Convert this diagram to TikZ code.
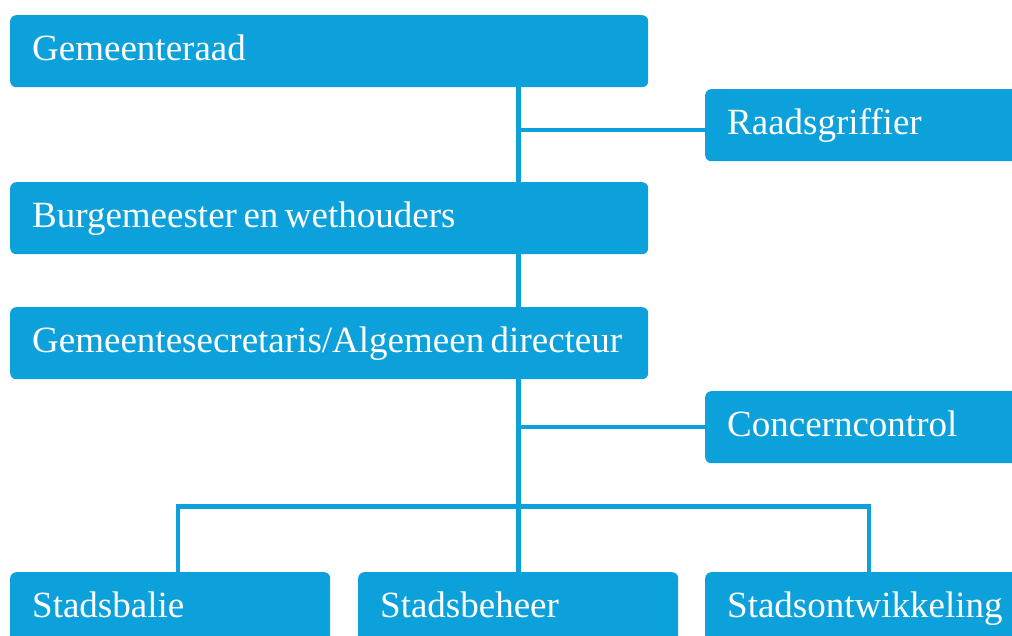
\documentclass[tikz,border=0pt]{standalone}
\usepackage{fontspec}
\setmainfont{Liberation Serif}
\usetikzlibrary{calc}
\definecolor{orgblue}{RGB}{12,161,219}

\begin{document}
\begin{tikzpicture}[x=1pt,y=-1pt,
    box/.style={fill=orgblue,rounded corners=6pt,anchor=north west,
      text=white,font=\fontsize{37}{40}\selectfont,align=left,
      text width=#1,inner xsep=22pt,inner ysep=0pt,
      minimum height=72pt,text height=18pt,text depth=0pt,
      execute at begin node={\spaceskip=6.5pt\hbox\bgroup},execute at end node={\egroup}},
    box/.default=594pt,
    conn/.style={draw=orgblue,line width=4.5pt,line join=miter}]
    \useasboundingbox (0,0) rectangle (1012,635);
    \clip (0,0) rectangle (1012,635);
    \coordinate (spine) at (518.5,0);
    \coordinate (barL) at (178,506.5);
    \coordinate (barR) at (869,506.5);
    \draw[conn] (518.5,87) -- (518.5,182);
    \draw[conn] (518.5,253) -- (518.5,307);
    \draw[conn] (518.5,379) -- (518.5,572);
    \node[box] (raad) at (10,15) {Gemeenteraad};
    \node[box=276pt] (griffier) at (705,89) {Raadsgriffier};
    \node[box] (burg) at (10,182) {Burgemeester en wethouders};
    \node[box] (secr) at (10,307) {Gemeentesecretaris/Algemeen directeur};
    \node[box=276pt] (control) at (705,391) {Concerncontrol};
    \node[box=276pt] (balie) at (10,572) {Stadsbalie};
    \node[box=276pt] (beheer) at (358,572) {Stadsbeheer};
    \node[box=276pt] (ontw) at (705,572) {Stadsontwikkeling};
    \draw[conn] ([yshift=-5pt]griffier.west) -- ([yshift=-5pt]griffier.west -| spine);
    \draw[conn] (control.west) -- (control.west -| spine);
    \draw[conn] (balie.north -| barL) -- (barL) -- (barR) -- (ontw.north -| barR);
\end{tikzpicture}
\end{document}
